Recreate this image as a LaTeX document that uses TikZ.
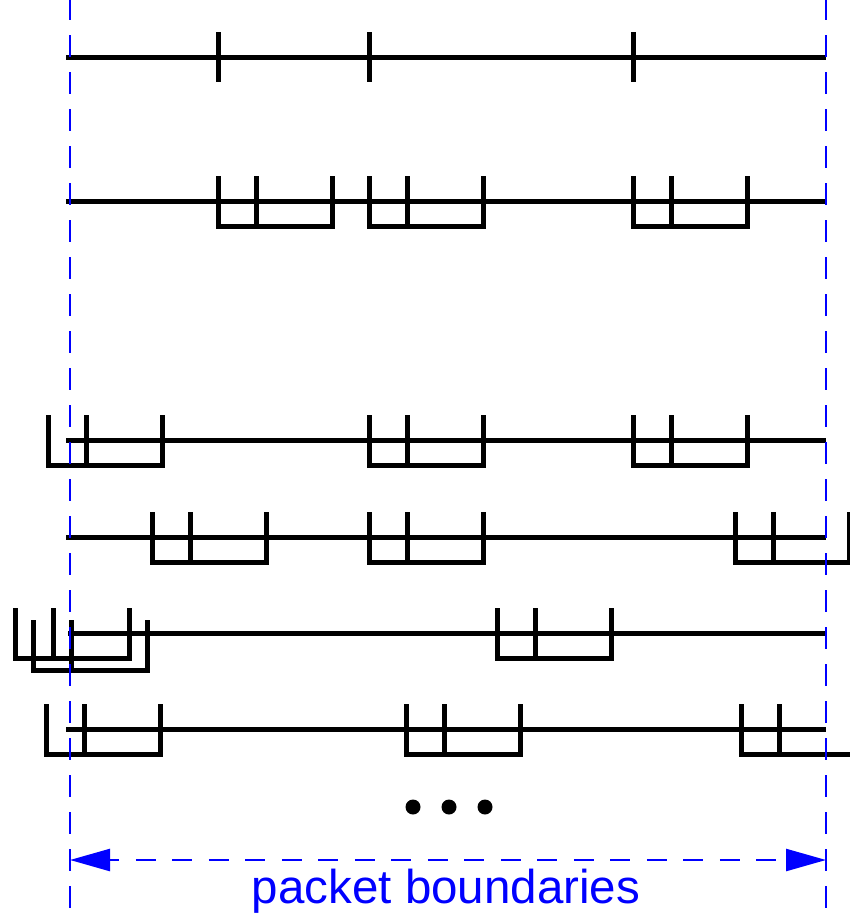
\documentclass[tikz,border=0pt]{standalone}
\usepackage{fontspec}
\setmainfont{Liberation Sans}
\usetikzlibrary{arrows.meta}

\begin{document}
\begin{tikzpicture}[x=1pt,y=-1pt,line width=5pt,>={Triangle[length=40pt,width=22pt]}]
  \useasboundingbox (0,0) rectangle (850,913);

  % Parameters
  \def\L{66}     % start of a stream
  \def\E{826}    % end of a stream
  \def\H{25}     % half height of a mark
  \def\W{114}    % width of a packet
  \def\M{38}     % inner mark of a packet

  % packet: open box with inner mark, left edge #1, stream at #2
  \def\pkt#1#2{%
    \draw (#1,#2-\H) -- (#1,#2+\H) -- (#1+\W,#2+\H) -- (#1+\W,#2-\H);
    \draw (#1+\M,#2-\H) -- (#1+\M,#2+\H);}

  % Row 1: plain marks
  \draw (\L,57) -- (\E,57);
  \foreach \x in {218,369,633} \draw (\x,57-\H) -- (\x,57+\H);

  % Row 2
  \draw (\L,201) -- (\E,201);
  \foreach \x in {218,369,633} {\pkt{\x}{201}}

  % Row 3
  \draw (\L,440) -- (\E,440);
  \foreach \x in {48,369,633} {\pkt{\x}{440}}

  % Row 4
  \draw (\L,537) -- (\E,537);
  \foreach \x in {152,369,735} {\pkt{\x}{537}}

  % Row 5: two packets overlap at the left
  \draw (68,633) -- (\E,633);
  \foreach \x in {15,497} {\pkt{\x}{633}}
  \pkt{33}{645}

  % Row 6
  \draw (\L,729) -- (\E,729);
  \foreach \x in {46,406,741} {\pkt{\x}{729}}

  % more rows
  \foreach \x in {413,449,485} \fill (\x,807) circle (7.5pt);

  % Packet boundaries
  \coordinate (lt) at (70,0);    % left boundary, top
  \coordinate (lb) at (70,913);  % left boundary, bottom
  \coordinate (rt) at (826,0);   % right boundary, top
  \coordinate (rb) at (826,913); % right boundary, bottom
  \coordinate (la) at (70,860);  % arrow, left
  \coordinate (ra) at (826,860); % arrow, right

  \draw[blue,line width=2.5pt,dash pattern=on 22pt off 15pt,dash phase=2pt] (lt) -- (lb);
  \draw[blue,line width=2.5pt,dash pattern=on 22pt off 15pt,dash phase=2pt] (rt) -- (rb);
  \draw[blue,line width=2.5pt,dash pattern=on 20pt off 16.5pt,dash phase=10pt,<->] (la) -- (ra);
  \node[blue,anchor=base,inner sep=0pt,font=\fontsize{47.5}{57}\selectfont] (lbl) at (446,903) {packet boundaries};

\end{tikzpicture}
\end{document}
